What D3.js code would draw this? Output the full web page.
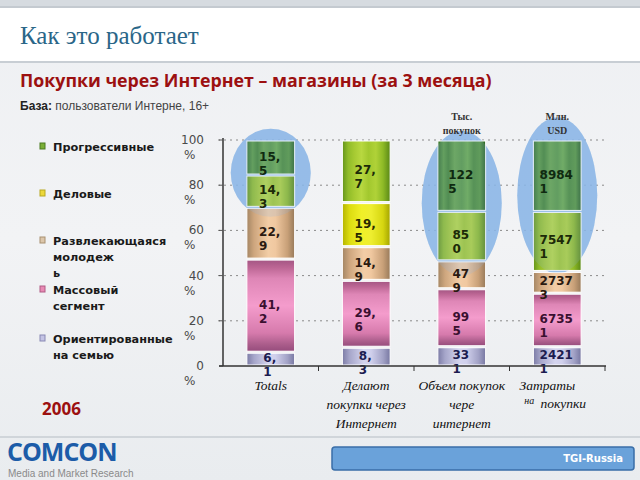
<!DOCTYPE html>
<html><head><meta charset="utf-8">
<script src="https://cdn.jsdelivr.net/npm/d3@7"></script>
<style>body{margin:0;background:#fff}svg{display:block}</style>
</head><body>
<svg id="c" width="640" height="480"></svg>
<script>
// ---- data ----
const categories = [["Totals"], ["Делают", "покупки через", "Интернет"], ["Объем покупок", "чере", "интернет"], ["Затраты", "покупки"]];
const series = ["Ориентированные на семью", "Массовый сегмент", "Развлекающаяся молодежь", "Деловые", "Прогрессивные"];
const totalsValues = [6.1, 41.2, 22.9, 14.3, 15.5];
const buyersValues = [8.3, 29.6, 14.9, 19.5, 27.7];
const volumeValues = [331, 995, 479, 850, 1225];
const spendValues = [24211, 67351, 27373, 75471, 89841];
const valueLabels = [
  ["6,1", "41,2", "22,9", "14,3", "15,5"],
  ["8,3", "29,6", "14,9", "19,5", "27,7"],
  ["331", "995", "479", "850", "1225"],
  ["24211", "67351", "27373", "75471", "89841"]
];
const yTicks = [0, 20, 40, 60, 80, 100];
const unitLabels = [null, null, ["Тыс.", "покупок"], ["Млн.", "USD"]];
const legendLabels = [["Прогрессивные"], ["Деловые"], ["Развлекающаяся", "молодеж", "ь"], ["Массовый", "сегмент"], ["Ориентированные", "на семью"]];

const bars = [totalsValues, buyersValues, volumeValues, spendValues];

const svg = d3.select("#c");
const defs = svg.append("defs");

// ---- gradients ----
function hGrad(id, stops) {
  const g = defs.append("linearGradient").attr("id", id).attr("x1", 0).attr("x2", 1).attr("y1", 0).attr("y2", 0);
  stops.forEach(s => g.append("stop").attr("offset", s[0]).attr("stop-color", s[1]));
}
function vGrad(id, stops) {
  const g = defs.append("linearGradient").attr("id", id).attr("x1", 0).attr("x2", 0).attr("y1", 0).attr("y2", 1);
  stops.forEach(s => g.append("stop").attr("offset", s[0]).attr("stop-color", s[1]));
}
hGrad("gDark", [[0, "#34702a"], [0.12, "#5a9a3e"], [0.22, "#448430"], [0.35, "#66a446"], [0.5, "#589840"], [0.62, "#6aaa48"], [0.75, "#4a8a34"], [0.88, "#56963a"], [1, "#2a6222"]]);
hGrad("gLime", [[0, "#64941a"], [0.12, "#90bc28"], [0.25, "#a6ca32"], [0.4, "#b8d840"], [0.55, "#a2c82e"], [0.7, "#b0d238"], [0.85, "#8eba26"], [1, "#5a8816"]]);
hGrad("gYellow", [[0, "#b4b400"], [0.15, "#dcdc10"], [0.4, "#f0f028"], [0.6, "#eeee30"], [0.85, "#d6d610"], [1, "#a4a400"]]);
hGrad("gTan", [[0, "#a48664"], [0.15, "#cea67e"], [0.45, "#f2cda6"], [0.6, "#f0c8a0"], [0.85, "#c8a078"], [1, "#987a5a"]]);
vGrad("gPink", [[0, "#a45684"], [0.08, "#bc6694"], [0.2, "#de86b6"], [0.5, "#f49ccc"], [0.8, "#d67aac"], [0.92, "#ac5e8c"], [1, "#964c7c"]]);
hGrad("gLav", [[0, "#7c7ca6"], [0.15, "#a6a6ca"], [0.45, "#d4d4ee"], [0.6, "#d0d0ec"], [0.85, "#a2a2c6"], [1, "#7878a2"]]);
vGrad("gBg", [[0, "#eef0f3"], [0.5, "#f2f3f5"], [1, "#e9ecef"]]);

const paletteA = ["gLav", "gPink", "gTan", "gLime", "gDark"];
const paletteB = ["gLav", "gPink", "gTan", "gYellow", "gLime"];
const barPalettes = [paletteA, paletteB, paletteA, paletteA];
const textColors = { gLav: "#1c1c50", gPink: "#3a1030", gTan: "#2a1a10", gLime: "#1c2a08", gDark: "#0f2a10", gYellow: "#2a2a00" };

// ---- background ----
svg.append("rect").attr("width", 640).attr("height", 480).attr("fill", "url(#gBg)");
svg.append("rect").attr("width", 640).attr("height", 8).attr("fill", "#d6dbe0");
svg.append("rect").attr("y", 8).attr("width", 640).attr("height", 54).attr("fill", "#ffffff");
svg.append("rect").attr("y", 6).attr("width", 640).attr("height", 2).attr("fill", "#c4cad0");
svg.append("rect").attr("y", 61).attr("width", 640).attr("height", 2).attr("fill", "#c8ced4");
svg.append("text").attr("x", 20).attr("y", 44).attr("font-family", "Liberation Serif, serif")
  .attr("font-size", 25).attr("fill", "#2a6688").text("Как это работает");

svg.append("text").attr("x", 20).attr("y", 87).attr("font-family", "Open Sans, DejaVu Sans, sans-serif")
  .attr("font-size", 17.8).attr("font-weight", "bold").attr("fill", "#9c1010")
  .text("Покупки через Интернет – магазины (за 3 месяца)");
const base = svg.append("text").attr("x", 20).attr("y", 110).attr("font-family", "Liberation Sans, Arial, sans-serif")
  .attr("font-size", 12).attr("fill", "#222");
base.append("tspan").attr("font-weight", "bold").text("База:");
base.append("tspan").attr("fill", "#444").text(" пользователи Интерне, 16+");

// ---- scales ----
const x = d3.scaleBand().domain(d3.range(categories.length)).range([223, 605]).paddingInner(0.5).paddingOuter(0.25);
const y = d3.scaleLinear().domain([0, 100]).range([366, 140]);
const step = x.step();

// gridlines
svg.append("g").selectAll("line").data(yTicks.filter(t => t > 0)).join("line")
  .attr("x1", 218).attr("x2", 605).attr("y1", d => y(d)).attr("y2", d => y(d))
  .attr("stroke", "#8a8a8a").attr("stroke-width", 1).attr("stroke-dasharray", "2,4");

// ellipse highlights
const ellipses = [
  { i: 0, top: 105, bottom: 66 },
  { i: 2, top: 104, bottom: 40 },
  { i: 3, top: 110, bottom: 41 }
];
function ellAttrs(sel, e) {
  const cx = x(e.i) + x.bandwidth() / 2;
  const y1 = y(e.top), y2 = y(e.bottom);
  sel.attr("cx", cx).attr("cy", (y1 + y2) / 2).attr("rx", 40).attr("ry", (y2 - y1) / 2);
}
ellipses.forEach(e => svg.append("ellipse").call(ellAttrs, e).attr("fill", "#8ab6e6").attr("opacity", 0.85));

// bars
const barG = svg.append("g");
bars.forEach((vals, bi) => {
  const total = d3.sum(vals);
  let acc = 0;
  vals.forEach((v, si) => {
    const p0 = acc / total * 100, p1 = (acc + v) / total * 100;
    acc += v;
    const yTop = y(p1), yBot = y(p0);
    barG.append("rect").attr("x", x(bi)).attr("y", yTop + 1).attr("width", x.bandwidth()).attr("height", yBot - yTop - 2)
      .attr("fill", "url(#" + barPalettes[bi][si] + ")").attr("stroke", "#ffffff").attr("stroke-width", 1);
  });
});

ellipses.forEach(e => svg.append("ellipse").call(ellAttrs, e).attr("fill", "#8ab6e6").attr("opacity", 0.2));

// value labels
const labG = svg.append("g").attr("font-family", "DejaVu Sans, Verdana, sans-serif").attr("font-size", 12).attr("font-weight", "bold");
bars.forEach((vals, bi) => {
  const total = d3.sum(vals);
  let acc = 0;
  vals.forEach((v, si) => {
    const p0 = acc / total * 100, p1 = (acc + v) / total * 100;
    acc += v;
    const cy = (y(p0) + y(p1)) / 2;
    const str = valueLabels[bi][si];
    const l1 = str.slice(0, -1), l2 = str.slice(-1);
    const col = textColors[barPalettes[bi][si]];
    const t1 = labG.append("text").attr("y", cy + 3).attr("fill", col).text(l1);
    const w = t1.node().getComputedTextLength();
    const sx = x(bi) + x.bandwidth() / 2 - w / 2 - 1;
    t1.attr("x", sx);
    labG.append("text").attr("x", sx).attr("y", cy + 17).attr("fill", col).text(l2);
  });
});

// axes
svg.append("line").attr("x1", 223).attr("x2", 223).attr("y1", 138).attr("y2", 366).attr("stroke", "#333").attr("stroke-width", 1.5);
svg.append("g").selectAll("line").data(yTicks).join("line")
  .attr("x1", 219).attr("x2", 223).attr("y1", d => y(d)).attr("y2", d => y(d)).attr("stroke", "#555");
svg.append("line").attr("x1", 219).attr("x2", 606).attr("y1", 366).attr("y2", 366).attr("stroke", "#333").attr("stroke-width", 1.5);
svg.append("g").selectAll("line").data(d3.range(categories.length)).join("line")
  .attr("x1", d => x(d) - step * 0.25 + step).attr("x2", d => x(d) - step * 0.25 + step)
  .attr("y1", 366).attr("y2", 371).attr("stroke", "#333");

// y tick labels
const yl = svg.append("g").attr("font-family", "DejaVu Sans, Verdana, sans-serif").attr("font-size", 12).attr("fill", "#4a4a4a");
yTicks.forEach(t => {
  yl.append("text").attr("x", 204).attr("y", y(t) + 4).attr("text-anchor", "end").text(t);
  yl.append("text").attr("x", 184).attr("y", y(t) + 19).text("%");
});

// unit labels
const ul = svg.append("g").attr("font-family", "Liberation Serif, serif").attr("font-size", 10).attr("font-weight", "bold").attr("fill", "#333").attr("text-anchor", "middle");
unitLabels.forEach((u, i) => {
  if (!u) return;
  u.forEach((s, k) => ul.append("text").attr("x", x(i) + x.bandwidth() / 2).attr("y", 120 + k * 14).text(s));
});

// category labels
const cl = svg.append("g").attr("font-family", "Liberation Serif, serif").attr("font-size", 13.5).attr("font-style", "italic").attr("fill", "#111").attr("text-anchor", "middle");
categories.forEach((lines, i) => {
  const cx = x(i) + x.bandwidth() / 2;
  if (i === 3) {
    cl.append("text").attr("x", cx - 10).attr("y", 390).text(lines[0]);
    cl.append("text").attr("x", cx - 28).attr("y", 404).attr("font-size", 10).text("на");
    cl.append("text").attr("x", cx + 6).attr("y", 408).text(lines[1]);
  } else {
    lines.forEach((s, k) => cl.append("text").attr("x", cx).attr("y", 390 + k * 19).text(s));
  }
});

// legend
const legColors = [["#7aae36", "#4a7a20"], ["#ecd83a", "#b8a820"], ["#dcc6aa", "#a89070"], ["#e88ab4", "#b05a84"], ["#c4c4e4", "#8888b4"]];
const legY = [146, 193, 240, 289, 338];
const lg = svg.append("g").attr("font-family", "DejaVu Sans, Verdana, sans-serif").attr("font-size", 11.3).attr("font-weight", "bold").attr("fill", "#1a1a1a");
legendLabels.forEach((lines, i) => {
  lg.append("rect").attr("x", 40).attr("y", legY[i] - 3).attr("width", 5).attr("height", 6)
    .attr("fill", legColors[i][0]).attr("stroke", legColors[i][1]).attr("stroke-width", 1);
  lines.forEach((s, k) => lg.append("text").attr("x", 53).attr("y", legY[i] + 5 + k * 16).text(s));
});

svg.append("text").attr("x", 42).attr("y", 415).attr("font-family", "Open Sans, DejaVu Sans, sans-serif")
  .attr("font-size", 17).attr("font-weight", "bold").attr("fill", "#9c1010").text("2006");

// footer
svg.append("rect").attr("y", 436).attr("width", 640).attr("height", 2).attr("fill", "#d0d5da");
svg.append("text").attr("x", 7).attr("y", 461).attr("font-family", "Open Sans, DejaVu Sans, sans-serif")
  .attr("font-size", 25).attr("font-weight", "bold").attr("fill", "#1c5ca8").attr("letter-spacing", -1).text("COMCON");
svg.append("text").attr("x", 8).attr("y", 477).attr("font-family", "Liberation Sans, Arial, sans-serif")
  .attr("font-size", 10).attr("fill", "#8a8a8a").text("Media and Market Research");
svg.append("rect").attr("x", 332).attr("y", 447).attr("width", 302).attr("height", 23).attr("rx", 3)
  .attr("fill", "#6aa2da").attr("stroke", "#3a6ea8").attr("stroke-width", 1.5);
svg.append("text").attr("x", 623).attr("y", 462).attr("text-anchor", "end").attr("font-family", "DejaVu Sans, sans-serif")
  .attr("font-size", 10).attr("font-weight", "bold").attr("fill", "#ffffff").text("TGI-Russia");
</script>
</body></html>
